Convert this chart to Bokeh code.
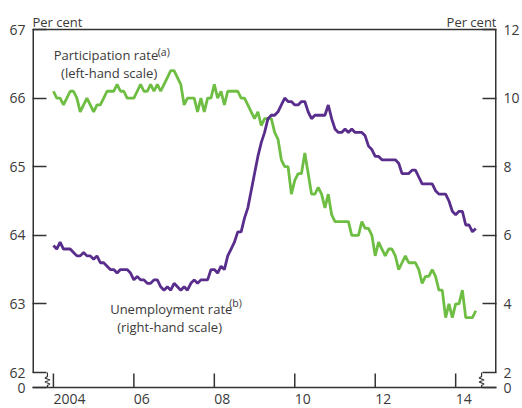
import pandas as pd
from bokeh.plotting import figure
from bokeh.models import (Range1d, LinearAxis, FixedTicker, Label, LabelSet,
                          ColumnDataSource, Span, CustomJSTickFormatter)
from bokeh.core.properties import value
from bokeh.embed import file_html
from bokeh.resources import INLINE

# ---------------- data (monthly, Jan 2004 onwards) ----------------
start_month = "2004-01"
participation = [
    66.1, 66.0, 66.0, 65.9, 66.0, 66.1, 66.1, 66.0, 65.8, 65.9, 66.0, 65.9,
    65.8, 65.9, 65.9, 66.0, 66.1, 66.1, 66.1, 66.2, 66.1, 66.1, 66.0, 66.0,
    66.0, 66.1, 66.2, 66.1, 66.1, 66.2, 66.1, 66.2, 66.1, 66.2, 66.3, 66.4,
    66.4, 66.3, 66.2, 65.9, 66.0, 66.0, 66.0, 65.8, 66.0, 65.8, 66.0, 66.0,
    66.2, 66.0, 66.1, 65.9, 66.1, 66.1, 66.1, 66.1, 66.0, 66.0, 65.9, 65.8,
    65.7, 65.8, 65.6, 65.7, 65.7, 65.7, 65.5, 65.4, 65.1, 65.0, 65.0, 64.6,
    64.8, 64.9, 64.9, 65.2, 64.9, 64.6, 64.6, 64.7, 64.6, 64.4, 64.6, 64.3,
    64.2, 64.2, 64.2, 64.2, 64.2, 64.0, 64.0, 64.0, 64.2, 64.1, 64.1, 64.0,
    63.7, 63.9, 63.8, 63.7, 63.8, 63.8, 63.7, 63.5, 63.6, 63.7, 63.6, 63.6,
    63.6, 63.5, 63.3, 63.4, 63.4, 63.5, 63.4, 63.2, 63.2, 62.8, 63.0, 62.8,
    63.0, 63.0, 63.2, 62.8, 62.8, 62.8, 62.9,
]
unemployment = [
    5.7, 5.6, 5.8, 5.6, 5.6, 5.6, 5.5, 5.4, 5.4, 5.5, 5.4, 5.4,
    5.3, 5.4, 5.2, 5.2, 5.1, 5.0, 5.0, 4.9, 5.0, 5.0, 5.0, 4.9,
    4.7, 4.8, 4.7, 4.7, 4.6, 4.6, 4.7, 4.7, 4.5, 4.4, 4.5, 4.4,
    4.6, 4.5, 4.4, 4.5, 4.4, 4.6, 4.7, 4.6, 4.7, 4.7, 4.7, 5.0,
    5.0, 4.9, 5.1, 5.0, 5.4, 5.6, 5.8, 6.1, 6.1, 6.5, 6.8, 7.3,
    7.8, 8.3, 8.7, 9.0, 9.4, 9.5, 9.5, 9.6, 9.8, 10.0, 9.9, 9.9,
    9.8, 9.8, 9.9, 9.9, 9.6, 9.4, 9.5, 9.5, 9.5, 9.5, 9.8, 9.4,
    9.1, 9.0, 9.0, 9.1, 9.0, 9.1, 9.0, 9.0, 9.0, 8.9, 8.6, 8.5,
    8.3, 8.3, 8.2, 8.2, 8.2, 8.2, 8.2, 8.1, 7.8, 7.8, 7.8, 7.9,
    7.9, 7.7, 7.5, 7.5, 7.5, 7.5, 7.3, 7.2, 7.2, 7.2, 7.0, 6.7,
    6.6, 6.7, 6.7, 6.3, 6.3, 6.1, 6.2,
]
x_ticks = [2004, 2006, 2008, 2010, 2012, 2014]
x_tick_labels = ["2004", "06", "08", "10", "12", "14"]
left_ticks = [62, 63, 64, 65, 66, 67]
right_ticks = [2, 4, 6, 8, 10, 12]

months = pd.period_range(start_month, periods=len(participation), freq="M")
xs = [m.year + (m.month - 1) / 12 for m in months]
src = ColumnDataSource(dict(x=xs, part=participation, unemp=unemployment))

# ---------------- layout (pixels) ----------------
W, H = 522, 408
BL, BR = 32, 24           # side panels for the two value axes
FW = W - BL - BR
Y_TOP_PX, Y_BRK_PX, Y_AX_PX = 29, 372, 387   # 67 / 62 / zero-line rows
X0, X1 = 2003.48, 2015.015
L_TOP, L_BRK = 67, 62
R_TOP, R_BRK = 12, 2
ppu = (Y_BRK_PX - Y_TOP_PX) / (L_TOP - L_BRK)     # px per left unit
L_HI = L_TOP + Y_TOP_PX / ppu
L_LO = L_BRK - (H - Y_BRK_PX) / ppu
L_AX = L_BRK - (Y_AX_PX - Y_BRK_PX) / ppu
k = (R_TOP - R_BRK) / (L_TOP - L_BRK)
R_HI = R_BRK + (L_HI - L_BRK) * k
R_LO = R_BRK + (L_LO - L_BRK) * k
R_AX = R_BRK + (L_AX - L_BRK) * k
dx = (X1 - X0) / FW
dy = 1 / ppu

GREEN = "#6fbe44"
PURPLE = "#582d8c"
AX = "#333333"
TXT = "#3a3a3a"
FONT = "Open Sans"

p = figure(width=W, height=H, x_range=Range1d(X0, X1),
           y_range=Range1d(L_LO, L_HI), output_backend="svg",
           toolbar_location=None, x_axis_location=None,
           min_border_left=BL, min_border_right=BR,
           min_border_top=0, min_border_bottom=0)
p.extra_y_ranges = {"right": Range1d(R_LO, R_HI)}
p.outline_line_color = None
p.xgrid.visible = False
p.ygrid.visible = False
p.background_fill_color = "white"
p.border_fill_color = "white"

ya = p.yaxis[0]
ya.ticker = FixedTicker(ticks=[L_AX] + left_ticks)
ya.formatter = CustomJSTickFormatter(
    code="return tick < %f ? '0' : tick.toFixed(0);" % (L_BRK - 0.05))
ra = LinearAxis(y_range_name="right", ticker=FixedTicker(ticks=[R_AX] + right_ticks),
                formatter=CustomJSTickFormatter(
                    code="return tick < %f ? '0' : tick.toFixed(0);" % (R_BRK - 0.1)))
p.add_layout(ra, "right")
for a, so in ((ya, 7), (ra, 7)):
    a.major_tick_in = 14
    a.major_tick_out = 0
    a.minor_tick_line_color = None
    a.axis_line_color = None
    a.major_tick_line_color = AX
    a.major_tick_line_width = 1.5
    a.major_label_standoff = so
    a.major_label_text_font = FONT
    a.major_label_text_font_size = "14px"
    a.major_label_text_color = TXT

# frame lines: top, zero line, and the two value-axis lines down to the break
p.add_layout(Span(location=L_TOP, dimension="width", line_color=AX, line_width=1.5))
p.add_layout(Span(location=L_AX, dimension="width", line_color=AX, line_width=1.5))
p.line([X0, X0], [L_BRK, L_TOP], line_color=AX, line_width=3)
p.line([X1, X1], [R_BRK, R_TOP], y_range_name="right", line_color=AX, line_width=3)

# x ticks (inside, upward) and labels
tick_src = ColumnDataSource(dict(x=x_ticks, y0=[L_AX] * len(x_ticks),
                                 y1=[L_AX + 14 * dy] * len(x_ticks),
                                 t=x_tick_labels))
p.segment(x0="x", y0="y0", x1="x", y1="y1", source=tick_src,
          line_color=AX, line_width=1.5)
p.add_layout(LabelSet(x="x", y="y0", text="t", source=tick_src,
                      text_align="left", text_baseline="alphabetic",
                      y_offset=-16, text_font=value(FONT),
                      text_font_size=value("14px"), text_color=TXT))

# series
p.line("x", "part", source=src, line_color=GREEN, line_width=2.8)
p.line("x", "unemp", source=src, y_range_name="right", line_color=PURPLE,
       line_width=2.8)

# axis breaks
zig = [(0, 0), (0, 4), (-2.5, 5.5), (2.5, 7.5), (-2.5, 9.5), (2.5, 11.5),
       (0, 13), (0, Y_AX_PX - Y_BRK_PX)]
for bx in (X0 + 15 * dx, X1 - 15 * dx):
    p.line([bx + ox * dx for ox, oy in zig],
           [L_BRK - oy * dy for ox, oy in zig],
           line_color=AX, line_width=1.2)

def lab(text, x, y, size="13px", align="left", xo=0, yo=0):
    p.add_layout(Label(text=text, x=x, y=y, x_offset=xo, y_offset=yo,
                       text_align=align, text_baseline="alphabetic",
                       text_font=FONT, text_font_size=size, text_color=TXT))

lab("Per cent", X0, L_TOP, yo=7.5)
lab("Per cent", X1, L_TOP, align="right", yo=7.5)

lab("Participation rate", 2004.007, 66.621)
lab("(a)", 2004.007, 66.679, size="10.5px", xo=104)
lab("(left-hand scale)", 2004.19, 66.373)
lab("Unemployment rate", 2005.411, 62.929)
lab("(b)", 2005.411, 63.020, size="10.5px", xo=119)
lab("(right-hand scale)", 2005.584, 62.660)

open("out.html", "w").write(file_html(p, INLINE))
